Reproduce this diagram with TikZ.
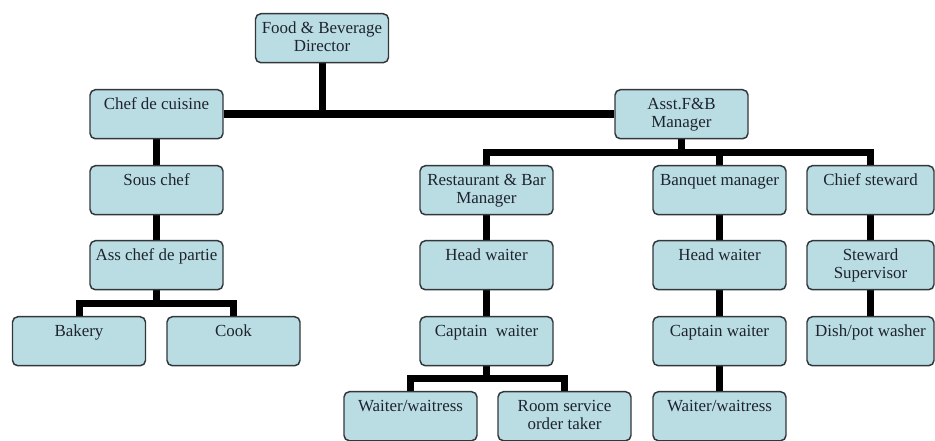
\documentclass[tikz,border=0pt]{standalone}
\usepackage{fontspec}
\setmainfont{Liberation Serif}
\usetikzlibrary{backgrounds,calc}
\definecolor{boxfill}{RGB}{186,221,227}
\definecolor{boxline}{RGB}{50,55,60}
\definecolor{txtcol}{RGB}{30,35,45}
\newcommand{\boxtext}[2][99.75pt]{\parbox[c][36.75pt][t]{#1}{\centering\fontsize{12.7}{13.5}\selectfont\vspace*{5.5pt}\strut #2}}
\tikzset{
  orgbox/.style={draw=boxline, line width=1.1pt, fill=boxfill, rounded corners=4pt,
    inner sep=0pt, text=txtcol, anchor=north},
  link/.style={line width=5.25pt, black, line join=miter},
  mainlink/.style={line width=6pt, black}
}
\begin{document}
\begin{tikzpicture}[x=0.75pt,y=-0.75pt]
\useasboundingbox (0,0) rectangle (935,441);
% boxes
\node[orgbox] (dir)   at (322,13)    {\boxtext{Food \& Beverage\\Director}};
\node[orgbox] (chef)  at (156.5,89)  {\boxtext{Chef de cuisine}};
\node[orgbox] (asst)  at (681.5,89)  {\boxtext{Asst.F\&B\\Manager}};
\node[orgbox] (sous)  at (156.5,165) {\boxtext{Sous chef}};
\node[orgbox] (acdp)  at (156.5,240) {\boxtext{Ass chef de partie}};
\node[orgbox] (bakery) at (79,316)   {\boxtext{Bakery}};
\node[orgbox] (cook)  at (233.5,316) {\boxtext{Cook}};
\node[orgbox] (rbm)   at (486.5,165) {\boxtext{Restaurant \& Bar\\Manager}};
\node[orgbox] (hwa)   at (486.5,240) {\boxtext{Head waiter}};
\node[orgbox] (cwa)   at (486.5,316) {\boxtext{Captain\ \ waiter}};
\node[orgbox] (wwa)   at (410.5,391) {\boxtext{Waiter/waitress}};
\node[orgbox] (rs)    at (564.5,391) {\boxtext{Room service\\order taker}};
\node[orgbox] (bm)    at (719.5,165) {\boxtext{Banquet manager}};
\node[orgbox] (hwb)   at (719.5,240) {\boxtext{Head waiter}};
\node[orgbox] (cwb)   at (719.5,316) {\boxtext{Captain waiter}};
\node[orgbox] (wwb)   at (719.5,391) {\boxtext{Waiter/waitress}};
\node[orgbox] (cs)    at (870.5,165) {\boxtext[95.25pt]{Chief steward}};
\node[orgbox] (ss)    at (870.5,240) {\boxtext[95.25pt]{Steward\\Supervisor}};
\node[orgbox] (dpw)   at (870.5,316) {\boxtext[95.25pt]{Dish/pot washer}};
% connectors
\begin{scope}[on background layer]
\fill[white] (0,0) rectangle (935,441);
\draw[link] (dir.south) -- (dir.south |- chef.east);
\draw[mainlink] (chef.east) -- (asst.west);
\draw[link] (chef.south) -- (sous.north);
\draw[link] (sous.south) -- (acdp.north);
\coordinate (j1) at ($(acdp.south)!0.5!(bakery.north)$);
\draw[link] (acdp.south) -- (acdp.south |- j1);
\draw[link] (bakery.north) -- (bakery.north |- j1) -- (cook.north |- j1) -- (cook.north);
\coordinate (j2) at ($(asst.south)!0.5!(rbm.north)$);
\draw[link] (asst.south) -- (asst.south |- j2);
\draw[link] (rbm.north) -- (rbm.north |- j2) -- (cs.north |- j2) -- (cs.north);
\draw[link] (bm.north) -- (bm.north |- j2);
\draw[link] (rbm.south) -- (hwa.north);
\draw[link] (hwa.south) -- (cwa.north);
\coordinate (j3) at ($(cwa.south)!0.5!(wwa.north)$);
\draw[link] (cwa.south) -- (cwa.south |- j3);
\draw[link] (wwa.north) -- (wwa.north |- j3) -- (rs.north |- j3) -- (rs.north);
\draw[link] (bm.south) -- (hwb.north);
\draw[link] (hwb.south) -- (cwb.north);
\draw[link] (cwb.south) -- (wwb.north);
\draw[link] (cs.south) -- (ss.north);
\draw[link] (ss.south) -- (dpw.north);
\end{scope}
\end{tikzpicture}
\end{document}
